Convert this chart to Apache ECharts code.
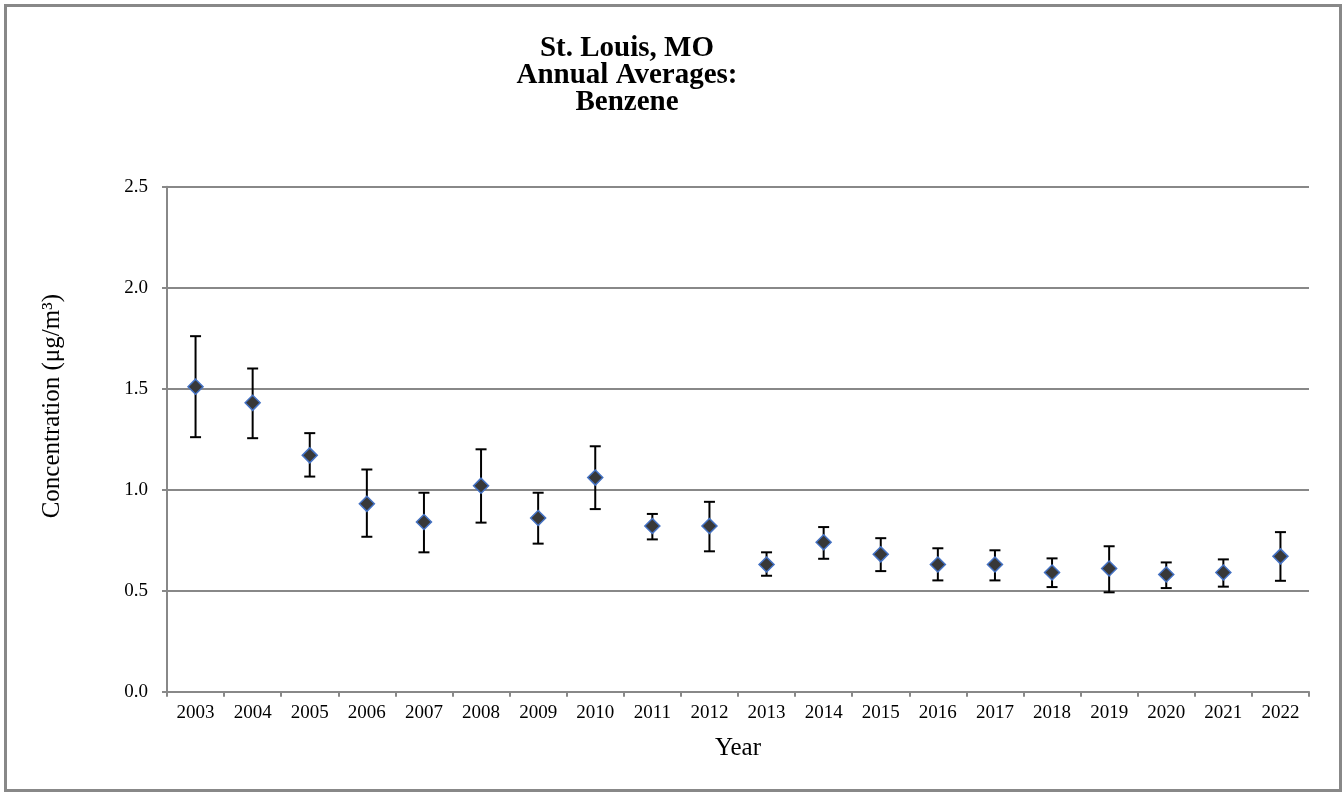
<!DOCTYPE html>
<html>
<head>
<meta charset="utf-8">
<script src="https://cdn.jsdelivr.net/npm/echarts@6/dist/echarts.min.js"></script>
<style>html,body{margin:0;padding:0;background:#fff}#c{width:1344px;height:794px}</style>
</head>
<body>
<div id="c"></div>
<script>
const years = ['2003','2004','2005','2006','2007','2008','2009','2010','2011','2012','2013','2014','2015','2016','2017','2018','2019','2020','2021','2022'];
const averages = [1.51,1.43,1.17,0.93,0.84,1.02,0.86,1.06,0.82,0.82,0.63,0.74,0.68,0.63,0.63,0.59,0.61,0.58,0.59,0.67];
const upperBound = [1.76,1.60,1.28,1.10,0.985,1.20,0.985,1.215,0.88,0.94,0.69,0.815,0.76,0.71,0.70,0.66,0.72,0.64,0.655,0.79];
const lowerBound = [1.26,1.255,1.065,0.767,0.69,0.837,0.733,0.904,0.754,0.695,0.574,0.658,0.597,0.551,0.551,0.518,0.492,0.513,0.52,0.549];
const yTicks = [0, 0.5, 1.0, 1.5, 2.0, 2.5];

const FONT = '"Liberation Serif", "Times New Roman", serif';
const chart = echarts.init(document.getElementById('c'), null, {renderer: 'canvas'});
const errData = years.map((y, i) => [i, lowerBound[i], upperBound[i]]);

chart.setOption({
  animation: false,
  backgroundColor: '#fff',
  graphic: [
    {type: 'rect', shape: {x: 5.5, y: 5.5, width: 1335, height: 785}, style: {fill: 'none', stroke: '#888', lineWidth: 3}, z: 0},
    {type: 'text', x: 627, y: 35, style: {text: 'St. Louis, MO\nAnnual Averages:\nBenzene', textAlign: 'center', textVerticalAlign: 'top', font: 'bold 29px ' + FONT, lineHeight: 27, fill: '#000'}}
  ],
  grid: {left: 167, right: 35, top: 186.7, bottom: 102.3, containLabel: false},
  xAxis: {
    type: 'category', data: years, boundaryGap: true,
    name: 'Year', nameLocation: 'middle', nameGap: 44,
    nameTextStyle: {fontFamily: FONT, fontSize: 25, color: '#000'},
    axisLine: {lineStyle: {color: '#888', width: 2}},
    axisTick: {show: true, alignWithLabel: false, length: 5, lineStyle: {color: '#888', width: 2}},
    axisLabel: {fontFamily: FONT, fontSize: 19, color: '#000', margin: 12, interval: 0},
    splitLine: {show: false}
  },
  yAxis: {
    type: 'value', min: yTicks[0], max: yTicks[yTicks.length - 1], interval: 0.5,
    name: 'Concentration (μg/m³)', nameLocation: 'middle', nameGap: 102, nameRotate: 90,
    nameTextStyle: {fontFamily: FONT, fontSize: 25, color: '#000', padding: [0, 0, 0, 66]},
    axisLine: {show: true, lineStyle: {color: '#888', width: 2}},
    axisTick: {show: true, length: 5, lineStyle: {color: '#888', width: 2}},
    axisLabel: {fontFamily: FONT, fontSize: 19, color: '#000', margin: 19, formatter: v => v.toFixed(1)},
    splitLine: {show: true, lineStyle: {color: '#888', width: 2}}
  },
  series: [
    {
      type: 'custom', data: errData, z: 2,
      renderItem: function (params, api) {
        const x = api.value(0);
        const lo = api.coord([x, api.value(1)]);
        const hi = api.coord([x, api.value(2)]);
        const hw = 5.5;
        const st = {stroke: '#000', lineWidth: 2};
        return {type: 'group', children: [
          {type: 'line', shape: {x1: lo[0], y1: lo[1], x2: hi[0], y2: hi[1]}, style: st},
          {type: 'line', shape: {x1: hi[0] - hw, y1: hi[1], x2: hi[0] + hw, y2: hi[1]}, style: st},
          {type: 'line', shape: {x1: lo[0] - hw, y1: lo[1], x2: lo[0] + hw, y2: lo[1]}, style: st}
        ]};
      }
    },
    {
      type: 'scatter', data: averages, z: 3,
      symbol: 'diamond', symbolSize: 15,
      itemStyle: {color: '#383838', borderColor: '#4472C4', borderWidth: 1.5, opacity: 1}
    }
  ]
});
</script>
</body>
</html>
